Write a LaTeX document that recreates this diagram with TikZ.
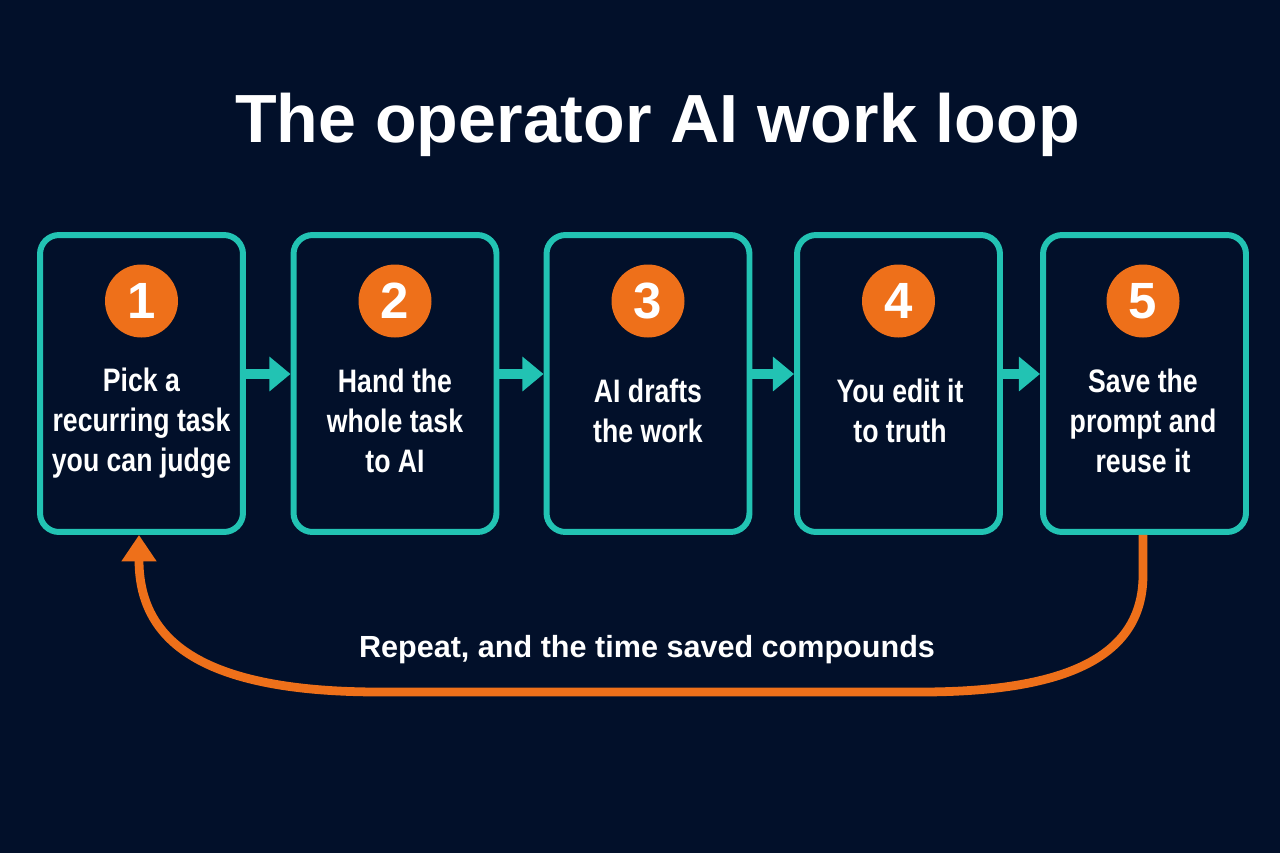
\documentclass[tikz,border=0pt]{standalone}
\usepackage{fontspec}
\setmainfont{Liberation Sans}
\newfontfamily\headfont{Liberation Sans}
\newfontfamily\stepfont[FakeStretch=0.82]{Liberation Sans}
\usetikzlibrary{arrows.meta, positioning}

\definecolor{bgnavy}{HTML}{02102A}
\definecolor{stepteal}{HTML}{22C3B3}
\definecolor{steporange}{HTML}{EE701A}

\begin{document}
\begin{tikzpicture}[x=0.02cm, y=-0.02cm,
  box/.style={draw=stepteal, line width=3.4pt, rounded corners=0.38cm,
              minimum width=4.06cm, minimum height=5.94cm},
  num/.style={circle, fill=steporange, text=white, minimum size=1.46cm,
              inner sep=0pt, font=\headfont\bfseries\fontsize{29}{29}\selectfont},
  txt/.style={text=white, align=center, inner sep=0pt,
              font=\stepfont\bfseries\fontsize{18.5}{22.7}\selectfont},
  arr/.style={-{Triangle[length=12pt, width=19pt]}, line width=5.5pt, draw=stepteal},
  back/.style={-{Triangle[length=15pt, width=19pt]}, line width=5pt, draw=steporange}
]
  \fill[bgnavy] (0,0) rectangle (1280,853);

  \node[text=white, anchor=base, font=\headfont\bfseries\fontsize{38.8}{40}\selectfont]
    (title) at (657.5,142) {The operator AI work loop};

  \node[box] (pick)  at (141.5,383.5)  {};
  \node[box] (hand)  at (395,383.5)    {};
  \node[box] (draft) at (648,383.5)    {};
  \node[box] (edit)  at (898.5,383.5)  {};
  \node[box] (save)  at (1144.5,383.5) {};

  \node[num] (n1) at (141.5,301) {1};
  \node[num] (n2) at (395,301)   {2};
  \node[num] (n3) at (648,301)   {3};
  \node[num] (n4) at (898.5,301) {4};
  \node[num] (n5) at (1143,301)  {5};

  \node[txt] (t1) at (141.5,423) {Pick a\\recurring task\\you can judge};
  \node[txt] (t2) at (395,421)   {Hand the\\whole task\\to AI};
  \node[txt] (t3) at (648,411)   {AI drafts\\the work};
  \node[txt] (t4) at (900,411)   {You edit it\\to truth};
  \node[txt] (t5) at (1143,421)  {Save the\\prompt and\\reuse it};

  \draw[arr] ([yshift=0.19cm]pick.east)  -- ([yshift=0.19cm]hand.west);
  \draw[arr] ([yshift=0.19cm]hand.east)  -- ([yshift=0.19cm]draft.west);
  \draw[arr] ([yshift=0.19cm]draft.east) -- ([yshift=0.19cm]edit.west);
  \draw[arr] ([yshift=0.19cm]edit.east)  -- ([yshift=0.19cm]save.west);

  % back to the first step
  \draw[back] ([xshift=-0.03cm]save.south) -- (1143,575)
    .. controls (1143,660) and (1060,692) .. (920,692) -- (380,692)
    .. controls (200,692) and (139,640) .. ([xshift=-0.05cm]pick.south);

  \node[text=white, anchor=base, font=\headfont\bfseries\fontsize{17.4}{20}\selectfont]
    (repeat) at (647,657) {Repeat, and the time saved compounds};
\end{tikzpicture}
\end{document}
